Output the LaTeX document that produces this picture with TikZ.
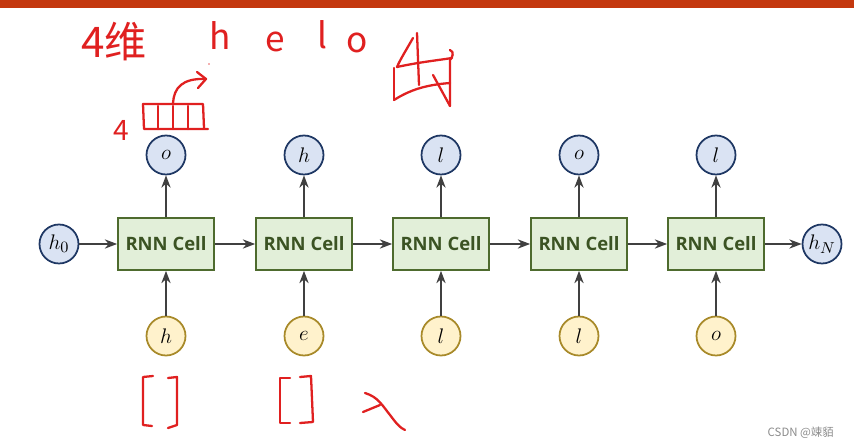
\documentclass[tikz,border=0pt]{standalone}
\usepackage{fontspec}
\newfontfamily\cellfont{Open Sans}
\newfontfamily\cjk{Noto Sans CJK SC}
\usetikzlibrary{arrows.meta}
\definecolor{CellFill}{HTML}{E2EFD9}
\definecolor{CellEdge}{HTML}{4E6B2E}
\definecolor{CellText}{HTML}{3B5323}
\definecolor{OutFill}{HTML}{DAE3F3}
\definecolor{OutEdge}{HTML}{1F3864}
\definecolor{InFill}{HTML}{FFF2CC}
\definecolor{InEdge}{HTML}{A88A2A}
\definecolor{NoteRed}{HTML}{E02020}
\definecolor{BarRed}{HTML}{C4380E}
\begin{document}
\begin{tikzpicture}[x=0.02cm, y=-0.02cm, >=Stealth,
  cell/.style={draw=CellEdge, fill=CellFill, line width=1pt,
    minimum width=1.92cm, minimum height=1.04cm, inner sep=0pt,
    font=\cellfont\bfseries\fontsize{10.5}{12}\selectfont, text=CellText},
  outc/.style={circle, draw=OutEdge, fill=OutFill, line width=1pt,
    minimum size=0.78cm, inner sep=0pt, font=\fontsize{12.5}{14}\selectfont},
  inc/.style={circle, draw=InEdge, fill=InFill, line width=1pt,
    minimum size=0.78cm, inner sep=0pt, font=\fontsize{12.5}{14}\selectfont},
  link/.style={->, line width=0.9pt, draw=black!75},
  ink/.style={NoteRed, line width=1.3pt, line cap=round, line join=round},
  note/.style={text=NoteRed, inner sep=0pt}]
  \useasboundingbox[fill=white] (0,0) rectangle (854,448);
  % top bar
  \fill[BarRed] (0,0) rectangle (854,8);
  % cells with their input and output
  \foreach \i/\x/\olab/\ilab in {1/166/o/h, 2/304/h/e, 3/441/l/l, 4/579/o/l, 5/716/l/o} {
    \node[cell] (c\i) at (\x,244) {RNN Cell};
    \node[outc] (o\i) at (\x,155) {$\olab$};
    \node[inc] (i\i) at (\x,336) {$\ilab$};
    \draw[link] (c\i) -- (o\i);
    \draw[link] (i\i) -- (c\i);
  }
  \node[outc] (h0) at (59,244) {$h_0$};
  \node[outc] (hN) at (822,244) {$h_N$};
  \draw[link] (h0) -- (c1);
  \draw[link] (c1) -- (c2);
  \draw[link] (c2) -- (c3);
  \draw[link] (c3) -- (c4);
  \draw[link] (c4) -- (c5);
  \draw[link] (c5) -- (hN);
  % handwritten notes
  \node[note, font=\cjk\fontsize{24}{26}\selectfont] (dim) at (114,42) {4维};
  \node[note, font=\cjk\fontsize{20}{22}\selectfont] (lh) at (220,36) {h};
  \node[note, font=\cjk\fontsize{20}{22}\selectfont] (le) at (275,42) {e};
  \node[note, font=\cjk\fontsize{20}{22}\selectfont] (ll) at (322,35) {l};
  \node[note, font=\cjk\fontsize{20}{22}\selectfont] (lo) at (357,43) {o};
  \node[note, font=\cjk\fontsize{16}{18}\selectfont] (four) at (121,130) {4};
  \fill[NoteRed!70] (209,64) circle (0.8);
  % one-hot vector
  \draw[ink] (143,104) -- (203,104) -- (204,128);
  \draw[ink] (143,104) -- (144,129) -- (208,129);
  \foreach \vx in {158,173,188} \draw[ink] (\vx,106) -- (\vx,129);
  \coordinate (vtop) at (173,103);
  \coordinate (vtip) at (206,79);
  \draw[ink] (vtop) .. controls (174,88) and (182,78) .. (vtip);
  \draw[ink] (197,72) -- (vtip) -- (198,88);
  % scribbled character
  \draw[ink] (394,68) -- (394,100);
  \draw[ink] (394,100) .. controls (410,90) and (425,85) .. (450,83);
  \draw[ink] (413,38) .. controls (405,52) and (400,60) .. (397,67);
  \draw[ink] (397,67) .. controls (420,62) and (440,60) .. (452,58);
  \draw[ink] (417,33) -- (419,85);
  \draw[ink] (450,50) .. controls (455,52) and (452,58) .. (450,60) -- (450,106);
  \draw[ink] (433,75) -- (450,106);
  % brackets
  \draw[ink] (153,376) -- (143,377) -- (143,425) -- (152,426);
  \draw[ink] (168,378) -- (177,377) -- (177,425) -- (168,428);
  \draw[ink] (290,378) -- (280,378) -- (280,423) -- (290,423);
  \draw[ink] (300,377) -- (311,376) -- (313,422) -- (300,423);
  \draw[ink] (363,412) -- (380,405);
  \draw[ink] (365,393) .. controls (378,397) and (382,405) .. (390,415) .. controls (396,423) and (400,428) .. (405,430);
  % watermark
  \node[text=black!45, font=\cjk\fontsize{6.5}{8}\selectfont, anchor=east] (mark) at (840,433) {CSDN @竦貊};
\end{tikzpicture}
\end{document}
